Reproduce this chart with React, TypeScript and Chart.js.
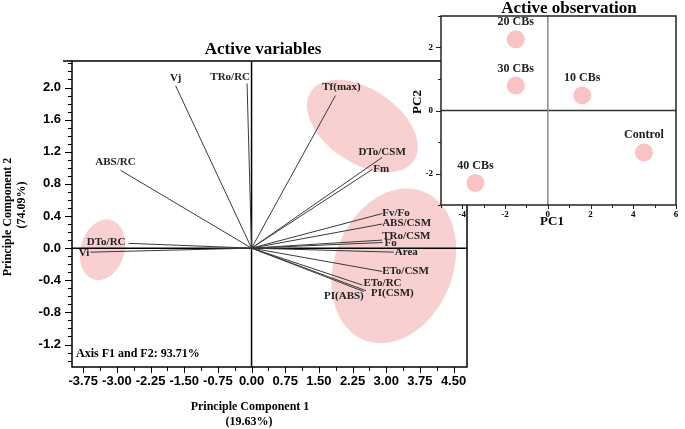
import React, { useEffect, useRef } from "react";
import { Chart, registerables } from "chart.js";

Chart.register(...registerables);

// ---------- Data: Active variables (loadings on PC1 / PC2) ----------
const variableNames = [
  "Vj", "TRo/RC", "ABS/RC", "DTo/RC", "Vi", "Tf(max)", "DTo/CSM", "Fm",
  "Fv/Fo", "ABS/CSM", "TRo/CSM", "Fo", "Area", "ETo/CSM", "ETo/RC", "PI(CSM)", "PI(ABS)",
];
const pc1Loadings = [-1.69, -0.1, -2.92, -2.74, -3.59, 1.87, 2.91, 2.69, 2.91, 2.91, 2.91, 2.92, 3.17, 2.91, 2.47, 2.55, 2.5];
const pc2Loadings = [2.02, 2.05, 0.97, 0.06, -0.05, 1.9, 1.13, 0.98, 0.43, 0.3, 0.1, 0.07, -0.05, -0.29, -0.46, -0.53, -0.54];

const mainXTicks = [-3.75, -3.0, -2.25, -1.5, -0.75, 0.0, 0.75, 1.5, 2.25, 3.0, 3.75, 4.5];
const mainYTicks = [-1.2, -0.8, -0.4, 0.0, 0.4, 0.8, 1.2, 1.6, 2.0];

// Groups highlighted by ellipses (centres in PC units)
const groupCentreX = [-3.32, 2.47, 3.17];
const groupCentreY = [-0.02, 1.52, -0.22];

// ---------- Data: Active observations (scores) ----------
const observationNames = ["20 CBs", "30 CBs", "10 CBs", "Control", "40 CBs"];
const obsPC1 = [-1.5, -1.5, 1.61, 4.5, -3.39];
const obsPC2 = [2.26, 0.79, 0.48, -1.33, -2.3];
const insetXTicks = [-4, -2, 0, 2, 4, 6];
const insetYTicks = [-2, 0, 2];

// ---------- Styles ----------
const PINK_AREA = "rgba(248, 208, 208, 1)";
const PINK_POINT = "#f9c3c5";
const SERIF = "'Liberation Serif', 'Times New Roman', serif";
const SANS = "'Liberation Sans', Arial, sans-serif";

// ellipse pixel sizes: radiusX, radiusY, rotation(deg)
const ellipseStyle = [
  { rx: 22, ry: 31, rot: 16 },
  { rx: 62, ry: 37, rot: 34 },
  { rx: 59, ry: 80, rot: 22 },
];

// label placement relative to vector end
const labelPlacement: Record<string, { align: CanvasTextAlign; dx: number; dy: number }> = {
  "Vj": { align: "center", dx: 0, dy: -8 },
  "TRo/RC": { align: "right", dx: 3, dy: -6 },
  "ABS/RC": { align: "center", dx: -5, dy: -8 },
  "DTo/RC": { align: "right", dx: -3, dy: -1 },
  "Vi": { align: "right", dx: -1, dy: 1 },
  "Tf(max)": { align: "center", dx: 6, dy: -8 },
  "DTo/CSM": { align: "center", dx: 0, dy: -5 },
  "Fm": { align: "left", dx: 1, dy: 0 },
  "Fv/Fo": { align: "left", dx: 0, dy: 0 },
  "ABS/CSM": { align: "left", dx: 0, dy: -1 },
  "TRo/CSM": { align: "left", dx: 0, dy: -4 },
  "Fo": { align: "left", dx: 2, dy: 1 },
  "Area": { align: "left", dx: 1, dy: 0 },
  "ETo/CSM": { align: "left", dx: 0, dy: 0 },
  "ETo/RC": { align: "left", dx: 1, dy: -2 },
  "PI(CSM)": { align: "left", dx: 5, dy: 2 },
  "PI(ABS)": { align: "right", dx: 0, dy: 5 },
};

const mainPlugin = {
  id: "mainDeco",
  beforeDatasetsDraw(chart: any) {
    const { ctx, chartArea: a, scales } = chart;
    const x = scales.x, y = scales.y;
    ctx.save();
    groupCentreX.forEach((cx, i) => {
      const st = ellipseStyle[i];
      ctx.beginPath();
      ctx.ellipse(x.getPixelForValue(cx), y.getPixelForValue(groupCentreY[i]), st.rx, st.ry, (st.rot * Math.PI) / 180, 0, Math.PI * 2);
      ctx.fillStyle = PINK_AREA;
      ctx.fill();
    });
    // zero lines
    ctx.strokeStyle = "#000";
    ctx.lineWidth = 1.5;
    const y0 = y.getPixelForValue(0);
    const x0 = x.getPixelForValue(0);
    ctx.beginPath();
    ctx.moveTo(a.left, y0);
    ctx.lineTo(a.right, y0);
    ctx.moveTo(x0, a.top);
    ctx.lineTo(x0, a.bottom);
    ctx.stroke();
    ctx.restore();
  },
  afterDatasetsDraw(chart: any) {
    const { ctx, scales } = chart;
    ctx.save();
    ctx.font = `bold 11px ${SERIF}`;
    ctx.fillStyle = "#222";
    ctx.textBaseline = "middle";
    variableNames.forEach((n, i) => {
      const p = labelPlacement[n];
      const px = scales.x.getPixelForValue(pc1Loadings[i]);
      const py = scales.y.getPixelForValue(pc2Loadings[i]);
      ctx.textAlign = p.align;
      ctx.fillText(n, px + p.dx, py + p.dy);
    });
    ctx.restore();
  },
  afterDraw(chart: any) {
    const { ctx, chartArea: a, scales } = chart;
    const x = scales.x, y = scales.y;
    ctx.save();
    ctx.strokeStyle = "#000";
    ctx.lineWidth = 1.5;
    ctx.strokeRect(a.left, a.top, a.right - a.left, a.bottom - a.top);
    ctx.beginPath();
    ctx.moveTo(a.left - 9, a.top);
    ctx.lineTo(a.left, a.top);
    ctx.stroke();
    // y ticks
    ctx.lineWidth = 1;
    ctx.beginPath();
    for (let k = -14; k <= 23; k++) {
      const v = k / 10;
      const major = mainYTicks.some((t) => Math.abs(t - v) < 1e-6);
      const py = Math.round(y.getPixelForValue(v)) + 0.5;
      ctx.moveTo(a.left, py);
      ctx.lineTo(a.left - (major ? 7 : 4), py);
    }
    // x ticks
    const step = mainXTicks[1] - mainXTicks[0];
    for (let v = mainXTicks[0] - step; v <= x.max + 1e-6; v += step / 2) {
      if (v < x.min) continue;
      const major = mainXTicks.some((t) => Math.abs(t - v) < 1e-6);
      const px = Math.round(x.getPixelForValue(v)) + 0.5;
      ctx.moveTo(px, a.bottom);
      ctx.lineTo(px, a.bottom + (major ? 6 : 4));
    }
    ctx.stroke();

    // titles
    ctx.fillStyle = "#000";
    ctx.textAlign = "center";
    ctx.textBaseline = "middle";
    ctx.font = `bold 17px ${SERIF}`;
    ctx.fillText("Active variables", 263, 50);
    ctx.font = `bold 12px ${SERIF}`;
    ctx.fillText("Principle Component 1", 250, 407);
    ctx.fillText("(19.63%)", 249, 422);
    ctx.save();
    ctx.translate(8, 217);
    ctx.rotate(-Math.PI / 2);
    ctx.fillText("Principle Component 2", 0, 0);
    ctx.restore();
    ctx.save();
    ctx.translate(22, 205);
    ctx.rotate(-Math.PI / 2);
    ctx.fillText("(74.09%)", 0, 0);
    ctx.restore();
    ctx.textAlign = "left";
    ctx.fillText("Axis F1 and F2: 93.71%", 76, 354);
    ctx.restore();
  },
};

const insetPlugin = {
  id: "insetDeco",
  beforeDraw(chart: any) {
    const { ctx, chartArea: a } = chart;
    ctx.save();
    ctx.fillStyle = "#fff";
    ctx.fillRect(a.left, a.top, a.right - a.left, a.bottom - a.top);
    ctx.restore();
  },
  beforeDatasetsDraw(chart: any) {
    const { ctx, chartArea: a, scales } = chart;
    ctx.save();
    ctx.lineWidth = 1.5;
    const y0 = scales.y.getPixelForValue(0);
    const x0 = scales.x.getPixelForValue(0);
    ctx.strokeStyle = "#333";
    ctx.beginPath();
    ctx.moveTo(a.left, y0);
    ctx.lineTo(a.right, y0);
    ctx.stroke();
    ctx.strokeStyle = "#888";
    ctx.beginPath();
    ctx.moveTo(x0, a.top);
    ctx.lineTo(x0, a.bottom);
    ctx.stroke();
    ctx.restore();
  },
  afterDatasetsDraw(chart: any) {
    const { ctx, scales } = chart;
    ctx.save();
    ctx.font = `bold 12px ${SERIF}`;
    ctx.fillStyle = "#222";
    ctx.textAlign = "center";
    ctx.textBaseline = "middle";
    observationNames.forEach((n, i) => {
      const px = scales.x.getPixelForValue(obsPC1[i]);
      const py = scales.y.getPixelForValue(obsPC2[i]);
      ctx.fillText(n, px, py - 17);
    });
    ctx.restore();
  },
  afterDraw(chart: any) {
    const { ctx, chartArea: a, scales } = chart;
    const x = scales.x, y = scales.y;
    ctx.save();
    ctx.strokeStyle = "#222";
    ctx.lineWidth = 1.5;
    ctx.strokeRect(a.left, a.top, a.right - a.left, a.bottom - a.top);
    ctx.lineWidth = 1;
    ctx.beginPath();
    for (let v = Math.ceil(y.min); v <= y.max; v++) {
      const major = insetYTicks.includes(v);
      const py = Math.round(y.getPixelForValue(v)) + 0.5;
      ctx.moveTo(a.left, py);
      ctx.lineTo(a.left - (major ? 5 : 3), py);
    }
    for (let v = Math.ceil(x.min); v <= x.max; v++) {
      const major = insetXTicks.includes(v);
      const px = Math.round(x.getPixelForValue(v)) + 0.5;
      ctx.moveTo(px, a.bottom);
      ctx.lineTo(px, a.bottom + (major ? 4 : 3));
    }
    ctx.stroke();
    ctx.fillStyle = "#000";
    ctx.textAlign = "center";
    ctx.textBaseline = "alphabetic";
    ctx.font = `bold 17px ${SERIF}`;
    ctx.fillText("Active observation", 184, 13);
    ctx.textBaseline = "middle";
    ctx.font = `bold 13px ${SERIF}`;
    ctx.fillText("PC1", 167, 222);
    ctx.save();
    ctx.translate(33, 102);
    ctx.rotate(-Math.PI / 2);
    ctx.fillText("PC2", 0, 0);
    ctx.restore();
    ctx.restore();
  },
};

export default function App() {
  const mainRef = useRef<HTMLCanvasElement>(null);
  const insetRef = useRef<HTMLCanvasElement>(null);

  useEffect(() => {
    const main = new Chart(mainRef.current as HTMLCanvasElement, {
      type: "scatter",
      data: {
        datasets: variableNames.map((n, i) => ({
          label: n,
          data: [
            { x: 0, y: 0 },
            { x: pc1Loadings[i], y: pc2Loadings[i] },
          ],
          showLine: true,
          pointRadius: 0,
          borderColor: "#3a3a3a",
          borderWidth: 1,
        })),
      },
      options: {
        responsive: false,
        animation: false,
        layout: { padding: { top: 61, right: 218, left: 0, bottom: 0 } },
        plugins: { legend: { display: false }, tooltip: { enabled: false } },
        scales: {
          x: {
            type: "linear",
            min: -4,
            max: 4.8,
            afterBuildTicks: (s: any) => {
              s.ticks = mainXTicks.map((v) => ({ value: v }));
            },
            afterFit: (s: any) => {
              s.height = 62;
            },
            ticks: {
              autoSkip: false,
              maxRotation: 0,
              padding: 7,
              color: "#000",
              font: { family: SANS, size: 13, weight: "bold" },
              callback: (v: any) => Number(v).toFixed(2),
            },
            grid: { drawOnChartArea: false, drawTicks: false },
            border: { display: false },
          },
          y: {
            type: "linear",
            min: -1.48,
            max: 2.33,
            afterBuildTicks: (s: any) => {
              s.ticks = mainYTicks.map((v) => ({ value: v }));
            },
            afterFit: (s: any) => {
              s.width = 72;
            },
            ticks: {
              autoSkip: false,
              padding: 11,
              color: "#000",
              font: { family: SANS, size: 13, weight: "bold" },
              callback: (v: any) => Number(v).toFixed(1),
            },
            grid: { drawOnChartArea: false, drawTicks: false },
            border: { display: false },
          },
        },
      },
      plugins: [mainPlugin],
    } as any);

    const inset = new Chart(insetRef.current as HTMLCanvasElement, {
      type: "scatter",
      data: {
        datasets: [
          {
            label: "Observations",
            data: obsPC1.map((v, i) => ({ x: v, y: obsPC2[i] })),
            pointRadius: 9,
            pointBackgroundColor: PINK_POINT,
            pointBorderWidth: 0,
            pointBorderColor: PINK_POINT,
          },
        ],
      },
      options: {
        responsive: false,
        animation: false,
        layout: { padding: { top: 16, right: 3, left: 0, bottom: 0 } },
        plugins: { legend: { display: false }, tooltip: { enabled: false } },
        scales: {
          x: {
            type: "linear",
            min: -5,
            max: 6,
            afterBuildTicks: (s: any) => {
              s.ticks = insetXTicks.map((v) => ({ value: v }));
            },
            afterFit: (s: any) => {
              s.height = 30;
            },
            ticks: {
              autoSkip: false,
              maxRotation: 0,
              padding: 4,
              color: "#000",
              font: { family: SERIF, size: 9, weight: "bold" },
            },
            grid: { drawOnChartArea: false, drawTicks: false },
            border: { display: false },
          },
          y: {
            type: "linear",
            min: -3,
            max: 3,
            afterBuildTicks: (s: any) => {
              s.ticks = insetYTicks.map((v) => ({ value: v }));
            },
            afterFit: (s: any) => {
              s.width = 56;
            },
            ticks: {
              autoSkip: false,
              padding: 8,
              color: "#000",
              font: { family: SERIF, size: 9, weight: "bold" },
            },
            grid: { drawOnChartArea: false, drawTicks: false },
            border: { display: false },
          },
        },
      },
      plugins: [insetPlugin],
    } as any);

    return () => {
      main.destroy();
      inset.destroy();
    };
  }, []);

  return (
    <div style={{ position: "fixed", left: 0, top: 0, width: 685, height: 429, background: "#fff" }}>
      <canvas
        ref={mainRef}
        width={685}
        height={429}
        style={{ position: "absolute", left: 0, top: 0, width: 685, height: 429 }}
      />
      <canvas
        ref={insetRef}
        width={300}
        height={235}
        style={{ position: "absolute", left: 385, top: 0, width: 300, height: 235 }}
      />
    </div>
  );
}
